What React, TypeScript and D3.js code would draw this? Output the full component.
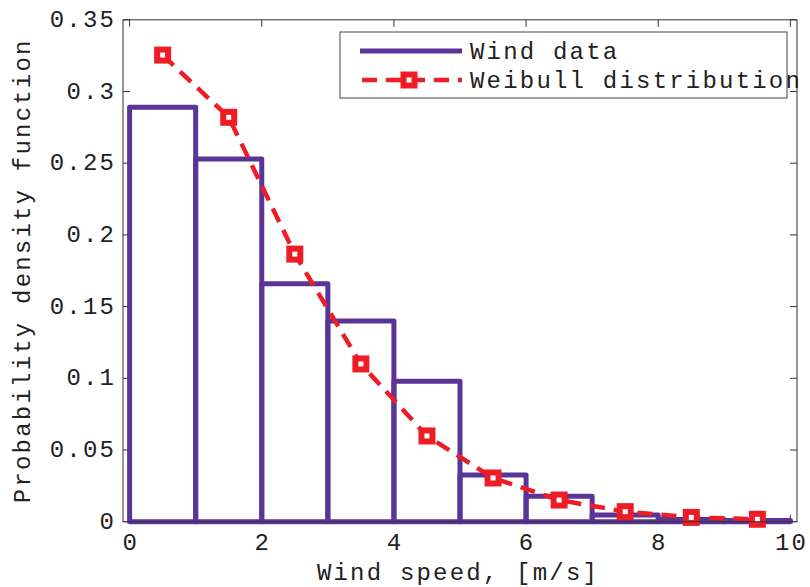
import React from "react";
import * as d3 from "d3";

const binEdges = [0, 1, 2, 3, 4, 5, 6, 7, 8, 9, 10];
const windData = [0.289, 0.253, 0.166, 0.14, 0.098, 0.0326, 0.0178, 0.0047, 0.0016, 0.0008];
const weibullX = [0.5, 1.5, 2.5, 3.5, 4.5, 5.5, 6.5, 7.5, 8.5, 9.5];
const weibullY = [0.3254, 0.282, 0.1866, 0.11, 0.0598, 0.0305, 0.0151, 0.007, 0.003, 0.0017];
const xTicks = [0, 2, 4, 6, 8, 10];
const yTicks = [0, 0.05, 0.1, 0.15, 0.2, 0.25, 0.3, 0.35];
const yTickLabels = ["0", "0.05", "0.1", "0.15", "0.2", "0.25", "0.3", "0.35"];
const legendLabels = ["Wind data", "Weibull distribution"];

const W = 810, H = 587;
const left = 123, right = 797, top = 19.8, bottom = 521.7;
const PURPLE = "#5a3597";
const RED = "#ee1d25";
const FONT = "'Liberation Mono', 'DejaVu Sans Mono', monospace";
const FS = 24;
const LS = 2.2;

export default function App() {
  const x = d3.scaleLinear().domain([-0.1, 10.1]).range([left, right]);
  const y = d3.scaleLinear().domain([0, 0.35]).range([bottom, top]);
  const line = d3.line<number>().x((_, i) => x(weibullX[i])).y((d) => y(d));
  const tl = 7;
  const ms = 11;
  return (
    <svg width={W} height={H} style={{ position: "absolute", left: 0, top: 0, background: "#fff" }}>
      <rect x={0} y={0} width={W} height={H} fill="#fff" />
      <g stroke="#333" strokeWidth={1}>
        {xTicks.map((t) => (
          <g key={"xt" + t}>
            <line x1={x(t)} x2={x(t)} y1={bottom} y2={bottom - tl} />
            <line x1={x(t)} x2={x(t)} y1={top} y2={top + tl} />
          </g>
        ))}
        {yTicks.map((t) => (
          <g key={"yt" + t}>
            <line x1={left} x2={left + tl} y1={y(t)} y2={y(t)} />
            <line x1={right} x2={right - tl} y1={y(t)} y2={y(t)} />
          </g>
        ))}
      </g>
      <g fill="none" stroke={PURPLE} strokeWidth={5} strokeLinejoin="round">
        {windData.map((v, i) => (
          <rect key={"b" + i} x={x(binEdges[i])} y={y(v)} width={x(binEdges[i + 1]) - x(binEdges[i])} height={y(0) - y(v)} />
        ))}
      </g>
      <path d={line(weibullY) || ""} fill="none" stroke={RED} strokeWidth={4.5} strokeDasharray="15 9" />
      {weibullY.map((v, i) => (
        <rect key={"m" + i} x={x(weibullX[i]) - ms / 2} y={y(v) - ms / 2} width={ms} height={ms} fill="#fff" stroke={RED} strokeWidth={6} />
      ))}
      <rect x={left} y={top} width={right - left} height={bottom - top} fill="none" stroke="#333" strokeWidth={1} />
      <g fontFamily={FONT} fontSize={FS} fill="#222" letterSpacing={LS}>
        {xTicks.map((t) => (
          <text key={"xl" + t} x={x(t) + LS / 2} y={550} textAnchor="middle">{t}</text>
        ))}
        {yTicks.map((t, i) => (
          <text key={"yl" + t} x={114 + LS} y={y(t) + 7} textAnchor="end">{yTickLabels[i]}</text>
        ))}
        <text x={458} y={580} textAnchor="middle">Wind speed, [m/s]</text>
        <text transform={`translate(30,${(top + bottom) / 2}) rotate(-90)`} textAnchor="middle">Probability density function</text>
      </g>
      <rect x={340} y={32} width={447} height={66} fill="#fff" stroke="#444" strokeWidth={1} />
      <line x1={360} x2={462} y1={51} y2={51} stroke={PURPLE} strokeWidth={5} />
      <line x1={360} x2={462} y1={80} y2={80} stroke={RED} strokeWidth={4.5} strokeDasharray="15 9" strokeDashoffset={-2} />
      <rect x={409 - ms / 2} y={80 - ms / 2} width={ms} height={ms} fill="#fff" stroke={RED} strokeWidth={6} />
      <g fontFamily={FONT} fontSize={FS} fill="#222" letterSpacing={LS}>
        <text x={470} y={59}>{legendLabels[0]}</text>
        <text x={470} y={88}>{legendLabels[1]}</text>
      </g>
    </svg>
  );
}
